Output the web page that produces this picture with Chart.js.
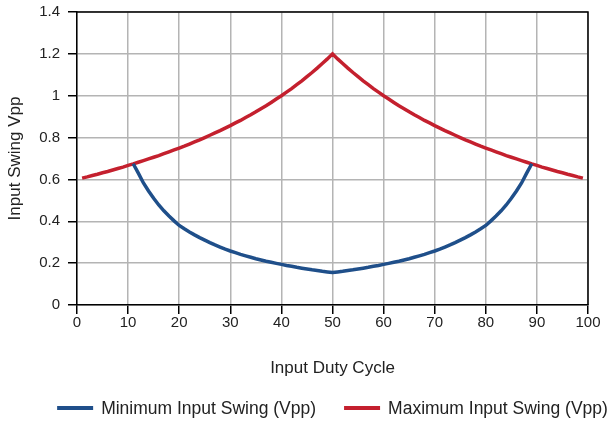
<!DOCTYPE html>
<html>
<head>
<meta charset="utf-8">
<script src="https://cdn.jsdelivr.net/npm/chart.js@4.4.0/dist/chart.umd.min.js"></script>
<style>
  html, body { margin: 0; padding: 0; background: #fff; }
  canvas { display: block; }
</style>
</head>
<body>
<canvas id="c" width="610" height="424"></canvas>
<script>
// ---- data ----
const xTickLabels = ['0','10','20','30','40','50','60','70','80','90','100'];
const yTickLabels = ['0','0.2','0.4','0.6','0.8','1','1.2','1.4'];

const maxDuty = [1,2,3,4,5,6,7,8,9,10,11,12,13,14,15,16,17,18,19,20,21,22,23,24,25,26,27,28,29,30,31,32,33,34,35,36,37,38,39,40,41,42,43,44,45,46,47,48,49,50,
  51,52,53,54,55,56,57,58,59,60,61,62,63,64,65,66,67,68,69,70,71,72,73,74,75,76,77,78,79,80,81,82,83,84,85,86,87,88,89,90,91,92,93,94,95,96,97,98,99];
const maxSwing = [0.606,0.612,0.619,0.625,0.632,0.638,0.645,0.652,0.659,0.667,0.674,0.682,0.690,0.698,0.706,0.714,0.723,0.732,0.741,0.750,
  0.759,0.769,0.779,0.789,0.800,0.811,0.822,0.833,0.845,0.857,0.870,0.882,0.896,0.909,0.923,0.938,0.952,0.968,0.984,1.000,
  1.017,1.034,1.053,1.071,1.091,1.111,1.132,1.154,1.176,1.200,
  1.176,1.154,1.132,1.111,1.091,1.071,1.053,1.034,1.017,1.000,0.984,0.968,0.952,0.938,0.923,0.909,0.896,0.882,0.870,0.857,
  0.845,0.833,0.822,0.811,0.800,0.789,0.779,0.769,0.759,0.750,0.741,0.732,0.723,0.714,0.706,0.698,0.690,0.682,0.674,0.667,
  0.659,0.652,0.645,0.638,0.632,0.625,0.619,0.612,0.606];

const minDuty = [11,12,13,14,15,16,17,18,19,20,21,22,23,24,25,26,27,28,29,30,31,32,33,34,35,36,37,38,39,40,41,42,43,44,45,46,47,48,49,50,
  51,52,53,54,55,56,57,58,59,60,61,62,63,64,65,66,67,68,69,70,71,72,73,74,75,76,77,78,79,80,81,82,83,84,85,86,87,88,89];
const minSwing = [0.675,0.630,0.583,0.545,0.510,0.478,0.450,0.425,0.402,0.380,0.364,0.349,0.335,0.322,0.310,0.298,0.287,0.277,0.267,0.258,
  0.250,0.242,0.235,0.228,0.221,0.215,0.209,0.204,0.199,0.194,0.189,0.185,0.180,0.176,0.172,0.168,0.165,0.161,0.158,0.155,
  0.158,0.161,0.165,0.168,0.172,0.176,0.180,0.185,0.189,0.194,0.199,0.204,0.209,0.215,0.221,0.228,0.235,0.242,0.250,0.258,
  0.267,0.277,0.287,0.298,0.310,0.322,0.335,0.349,0.364,0.380,0.402,0.425,0.450,0.478,0.510,0.545,0.583,0.630,0.675];

const seriesNames = ['Minimum Input Swing (Vpp)', 'Maximum Input Swing (Vpp)'];
const seriesColors = ['#1f4f8a', '#c4202e'];
const xTitle = 'Input Duty Cycle';
const yTitle = 'Input Swing Vpp';

// ---- chart ----
const FONT = '"Liberation Sans", Arial, Helvetica, sans-serif';
const TEXT = '#222';

const framePlugin = {
  id: 'frame',
  beforeDatasetsDraw(chart) {
    const {ctx, chartArea: a} = chart;
    ctx.save();
    ctx.strokeStyle = '#000';
    ctx.lineWidth = 1.5;
    ctx.beginPath();
    ctx.moveTo(a.left, a.top);
    ctx.lineTo(a.right, a.top);
    ctx.lineTo(a.right, a.bottom);
    ctx.stroke();
    ctx.restore();
  }
};

const legendPlugin = {
  id: 'customLegend',
  afterDraw(chart) {
    const {ctx, chartArea: a} = chart;
    const box = 36, gap = 8, between = 28, y = 408;
    ctx.save();
    ctx.font = '17.5px ' + FONT;
    ctx.textBaseline = 'middle';
    ctx.textAlign = 'left';
    const items = chart.data.datasets.map(d => ({text: d.label, color: d.borderColor, w: ctx.measureText(d.label).width}));
    let total = 0;
    items.forEach((it, i) => { total += box + gap + it.w + (i ? between : 0); });
    let x = (a.left + a.right) / 2 - total / 2;
    items.forEach(it => {
      ctx.strokeStyle = it.color;
      ctx.lineWidth = 4;
      ctx.lineCap = 'butt';
      ctx.beginPath();
      ctx.moveTo(x, y);
      ctx.lineTo(x + box, y);
      ctx.stroke();
      ctx.fillStyle = TEXT;
      ctx.fillText(it.text, x + box + gap, y + 1);
      x += box + gap + it.w + between;
    });
    ctx.restore();
  }
};

new Chart(document.getElementById('c'), {
  type: 'line',
  data: {
    datasets: [
      {
        label: seriesNames[0],
        data: minDuty.map((d, i) => ({x: d, y: minSwing[i]})),
        borderColor: seriesColors[0],
        backgroundColor: seriesColors[0],
        borderWidth: 3.5,
        pointRadius: 0,
        tension: 0
      },
      {
        label: seriesNames[1],
        data: maxDuty.map((d, i) => ({x: d, y: maxSwing[i]})),
        borderColor: seriesColors[1],
        backgroundColor: seriesColors[1],
        borderWidth: 3.5,
        pointRadius: 0,
        tension: 0
      }
    ]
  },
  options: {
    responsive: false,
    animation: false,
    layout: { padding: { top: 12, right: 22, bottom: 42, left: 0 } },
    plugins: {
      legend: { display: false },
      tooltip: { enabled: false }
    },
    scales: {
      x: {
        type: 'linear',
        min: 0, max: 100,
        afterFit(s) { s.height = 77; s.paddingLeft = 0; s.paddingRight = 0; },
        ticks: {
          stepSize: 10,
          padding: 0,
          color: TEXT,
          font: { family: FONT, size: 15 },
          maxRotation: 0,
          callback: (v, i) => xTickLabels[i]
        },
        grid: { color: '#b4b4b4', lineWidth: 1.5, tickLength: 9, tickColor: '#000' },
        border: { color: '#000', width: 1.5 },
        title: { display: true, text: xTitle, color: TEXT, font: { family: FONT, size: 17 }, padding: { top: 4, bottom: 3 } }
      },
      y: {
        min: 0, max: 1.4,
        afterFit(s) { s.width = 77; s.paddingTop = 0; s.paddingBottom = 0; },
        ticks: {
          stepSize: 0.2,
          padding: 8,
          color: TEXT,
          font: { family: FONT, size: 15 },
          callback: (v, i) => yTickLabels[i]
        },
        grid: { color: '#b4b4b4', lineWidth: 1.5, tickLength: 9, tickColor: '#000' },
        border: { color: '#000', width: 1.5 },
        title: { display: true, text: yTitle, color: TEXT, font: { family: FONT, size: 17 }, padding: { top: 5, bottom: 0 } }
      }
    }
  },
  plugins: [framePlugin, legendPlugin]
});
</script>
</body>
</html>
